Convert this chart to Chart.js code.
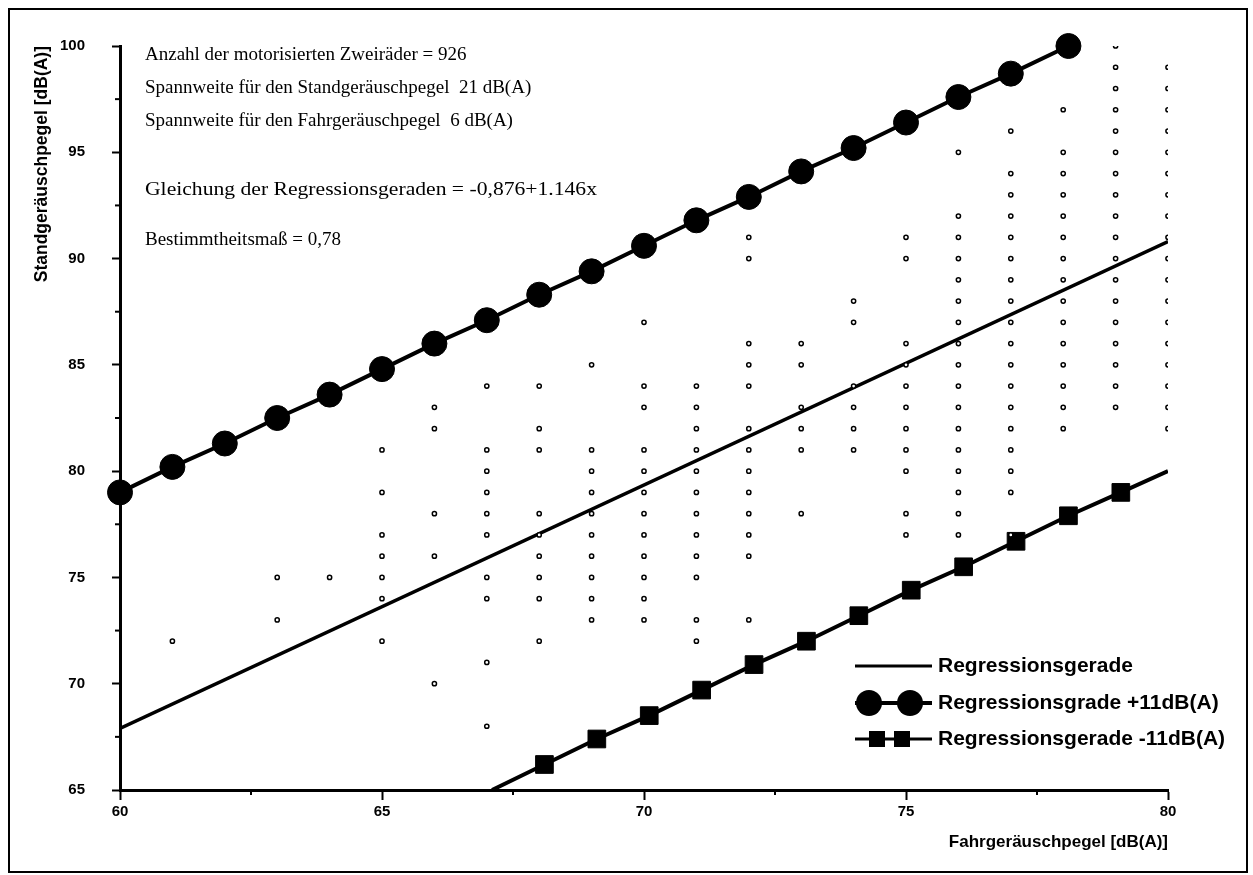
<!DOCTYPE html>
<html>
<head>
<meta charset="utf-8">
<script src="https://cdn.jsdelivr.net/npm/chart.js@4.4.1/dist/chart.umd.min.js"></script>
<style>
  html, body { margin: 0; padding: 0; background: #fff; }
  #wrap { position: relative; width: 1253px; height: 875px; }
  #frame { position: absolute; left: 8px; top: 8px; width: 1240px; height: 865px;
           border: 2px solid #000; box-sizing: border-box; pointer-events: none; }
</style>
</head>
<body>
<div id="wrap">
  <canvas id="chart" width="1253" height="875"></canvas>
  <div id="frame"></div>
</div>
<script>
// Achsen
const xTicks = [60, 65, 70, 75, 80];
const yTicks = [65, 70, 75, 80, 85, 90, 95, 100];
const xMinorTicks = [62.5, 67.5, 72.5, 77.5];
const yMinorTicks = [67.5, 72.5, 77.5, 82.5, 87.5, 92.5, 97.5];

// Messwerte: Fahrgeräuschpegel (Spalte) -> Standgeräuschpegel
const scatterCols = [61, 63, 64, 65, 66, 67, 68, 69, 70, 71, 72, 73, 74, 75, 76, 77, 78, 79, 80];
const scatterVals = [
  [72],
  [75, 73],
  [75],
  [81, 79, 77, 76, 75, 74, 72],
  [83, 82, 78, 76, 70],
  [84, 81, 80, 79, 78, 77, 75, 74, 71, 68],
  [84, 82, 81, 78, 77, 76, 75, 74, 72],
  [85, 81, 80, 79, 78, 77, 76, 75, 74, 73],
  [87, 84, 83, 81, 80, 79, 78, 77, 76, 75, 74, 73],
  [84, 83, 82, 81, 80, 79, 78, 77, 76, 75, 73, 72],
  [91, 90, 86, 85, 84, 82, 81, 80, 79, 78, 77, 76, 73],
  [86, 85, 83, 82, 81, 78],
  [88, 87, 84, 83, 82, 81],
  [91, 90, 86, 85, 84, 83, 82, 81, 80, 78, 77],
  [95, 92, 91, 90, 89, 88, 87, 86, 85, 84, 83, 82, 81, 80, 79, 78, 77],
  [96, 94, 93, 92, 91, 90, 89, 88, 87, 86, 85, 84, 83, 82, 81, 80, 79, 77],
  [97, 95, 94, 93, 92, 91, 90, 89, 88, 87, 86, 85, 84, 83, 82],
  [100, 99, 98, 97, 96, 95, 94, 93, 92, 91, 90, 89, 88, 87, 86, 85, 84, 83],
  [99, 98, 97, 96, 95, 94, 93, 92, 91, 90, 89, 88, 87, 86, 85, 84, 83, 82]
];

// Regressionsgerade
const regX = [60, 80];
const regY = [67.9, 90.8];

// Regressionsgrade +11dB(A)
const plusX = [60, 61, 62, 63, 64, 65, 66, 67, 68, 69, 70, 71, 72, 73, 74, 75, 76, 77, 78.1];
const plusY = [79.0, 80.2, 81.3, 82.5, 83.6, 84.8, 86.0, 87.1, 88.3, 89.4, 90.6, 91.8, 92.9, 94.1, 95.2, 96.4, 97.6, 98.7, 100.0];

// Regressionsgerade -11dB(A)
const minusX = [67.1, 68.1, 69.1, 70.1, 71.1, 72.1, 73.1, 74.1, 75.1, 76.1, 77.1, 78.1, 79.1, 80];
const minusY = [65.0, 66.2, 67.4, 68.5, 69.7, 70.9, 72.0, 73.2, 74.4, 75.5, 76.7, 77.9, 79.0, 80.0];

// Texte
const infoLines = [
  "Anzahl der motorisierten Zweiräder = 926",
  "Spannweite für den Standgeräuschpegel  21 dB(A)",
  "Spannweite für den Fahrgeräuschpegel  6 dB(A)",
  "Gleichung der Regressionsgeraden = -0,876+1.146x",
  "Bestimmtheitsmaß = 0,78"
];
const legendLabels = ["Regressionsgerade", "Regressionsgrade +11dB(A)", "Regressionsgerade -11dB(A)"];
const xTitle = "Fahrgeräuschpegel [dB(A)]";
const yTitle = "Standgeräuschpegel [dB(A)]";

const sans = "'Liberation Sans', Arial, sans-serif";
const serif = "'Liberation Serif', 'Times New Roman', serif";

const scatterData = [];
scatterCols.forEach((x, i) => {
  scatterVals[i].forEach(y => scatterData.push({ x: x, y: y }));
});
const toPts = (xs, ys) => xs.map((x, i) => ({ x: x, y: ys[i] }));

// Nebenstriche an den Achsen
const minorTickPlugin = {
  id: "minorTicks",
  afterDraw(chart) {
    const c = chart.ctx, a = chart.chartArea;
    const xs = chart.scales.x, ys = chart.scales.y;
    c.save();
    c.strokeStyle = "#000";
    c.lineWidth = 2;
    xMinorTicks.forEach(v => {
      const px = xs.getPixelForValue(v);
      c.beginPath(); c.moveTo(px, a.bottom); c.lineTo(px, a.bottom + 5); c.stroke();
    });
    yMinorTicks.forEach(v => {
      const py = ys.getPixelForValue(v);
      c.beginPath(); c.moveTo(a.left - 5, py); c.lineTo(a.left, py); c.stroke();
    });
    c.restore();
  }
};

// Textblock oben links
const infoPlugin = {
  id: "infoText",
  afterDraw(chart) {
    const c = chart.ctx;
    const rows = [55, 88, 121, 190, 240];
    c.save();
    c.fillStyle = "#000";
    c.font = "19px " + serif;
    c.textBaseline = "middle";
    c.textAlign = "left";
    infoLines.forEach((t, i) => {
      if (i === 3) {
        // Gleichung ist im Original etwas breiter gesetzt
        const w = c.measureText(t).width;
        c.save();
        c.translate(145, rows[i]);
        c.scale(452 / w, 1);
        c.fillText(t, 0, 0);
        c.restore();
      } else {
        c.fillText(t, 145, rows[i]);
      }
    });
    c.restore();
  }
};

// Legende unten rechts
const legendPlugin = {
  id: "customLegend",
  afterDraw(chart) {
    const c = chart.ctx;
    const rows = [666, 703, 739];
    c.save();
    c.fillStyle = "#000";
    c.strokeStyle = "#000";
    // Regressionsgerade
    c.lineWidth = 3;
    c.beginPath(); c.moveTo(855, rows[0]); c.lineTo(932, rows[0]); c.stroke();
    // +11
    c.lineWidth = 4;
    c.beginPath(); c.moveTo(855, rows[1]); c.lineTo(932, rows[1]); c.stroke();
    [869, 910].forEach(px => { c.beginPath(); c.arc(px, rows[1], 13, 0, Math.PI * 2); c.fill(); });
    // -11
    c.lineWidth = 3;
    c.beginPath(); c.moveTo(855, rows[2]); c.lineTo(932, rows[2]); c.stroke();
    [877, 902].forEach(px => c.fillRect(px - 8, rows[2] - 8, 16, 16));
    c.font = "bold 21px " + sans;
    c.textBaseline = "middle";
    legendLabels.forEach((t, i) => c.fillText(t, 938, rows[i]));
    c.restore();
  }
};

Chart.defaults.font.family = sans;
Chart.defaults.color = "#000";

new Chart(document.getElementById("chart").getContext("2d"), {
  type: "scatter",
  data: {
    datasets: [
      {
        label: "Messwerte",
        data: scatterData,
        pointStyle: "circle",
        pointRadius: 2.1,
        borderWidth: 1.5,
        borderColor: "#000",
        backgroundColor: "#fff",
        clip: 0
      },
      {
        type: "line",
        label: legendLabels[0],
        data: toPts(regX, regY),
        borderColor: "#000",
        borderWidth: 3.5,
        pointRadius: 0,
        tension: 0,
        clip: 0
      },
      {
        type: "line",
        label: legendLabels[1],
        data: toPts(plusX, plusY),
        borderColor: "#000",
        borderWidth: 4,
        pointStyle: "circle",
        pointRadius: 12.5,
        pointBorderWidth: 1,
        pointBackgroundColor: "#000",
        pointBorderColor: "#000",
        tension: 0,
        clip: false
      },
      {
        type: "line",
        label: legendLabels[2],
        data: toPts(minusX, minusY),
        borderColor: "#000",
        borderWidth: 4,
        pointStyle: "rect",
        pointRadius: ctx => (ctx.dataIndex === 0 || ctx.dataIndex === minusX.length - 1) ? 0 : 12.5,
        pointBorderWidth: 1,
        pointBackgroundColor: "#000",
        pointBorderColor: "#000",
        tension: 0,
        clip: 0
      }
    ]
  },
  options: {
    responsive: false,
    animation: false,
    events: [],
    layout: { padding: { left: 0, top: 46, right: 85, bottom: 0 } },
    plugins: {
      legend: { display: false },
      tooltip: { enabled: false }
    },
    scales: {
      x: {
        type: "linear",
        min: xTicks[0],
        max: xTicks[xTicks.length - 1],
        afterBuildTicks: s => { s.ticks = xTicks.map(v => ({ value: v })); },
        afterFit: s => { s.height = 85; },
        ticks: { font: { size: 15, weight: "bold" }, color: "#000", padding: 3, maxRotation: 0 },
        grid: { drawOnChartArea: false, drawTicks: true, tickLength: 10, tickWidth: 2, tickColor: "#000" },
        border: { display: true, width: 3, color: "#000" },
        title: {
          display: true, text: xTitle, align: "end", color: "#000",
          font: { size: 17, weight: "bold" }, padding: { top: 0, bottom: 22 }
        }
      },
      y: {
        type: "linear",
        min: yTicks[0],
        max: yTicks[yTicks.length - 1],
        afterBuildTicks: s => { s.ticks = yTicks.map(v => ({ value: v })); },
        afterFit: s => { s.width = 120; },
        ticks: { font: { size: 15, weight: "bold" }, color: "#000", padding: 27 },
        grid: { drawOnChartArea: false, drawTicks: true, tickLength: 8, tickWidth: 2, tickColor: "#000" },
        border: { display: true, width: 3, color: "#000" },
        title: {
          display: true, text: yTitle, align: "end", color: "#000",
          font: { size: 17.5, weight: "bold" }, padding: { top: 32, bottom: 0 }
        }
      }
    }
  },
  plugins: [minorTickPlugin, infoPlugin, legendPlugin]
});
</script>
</body>
</html>
